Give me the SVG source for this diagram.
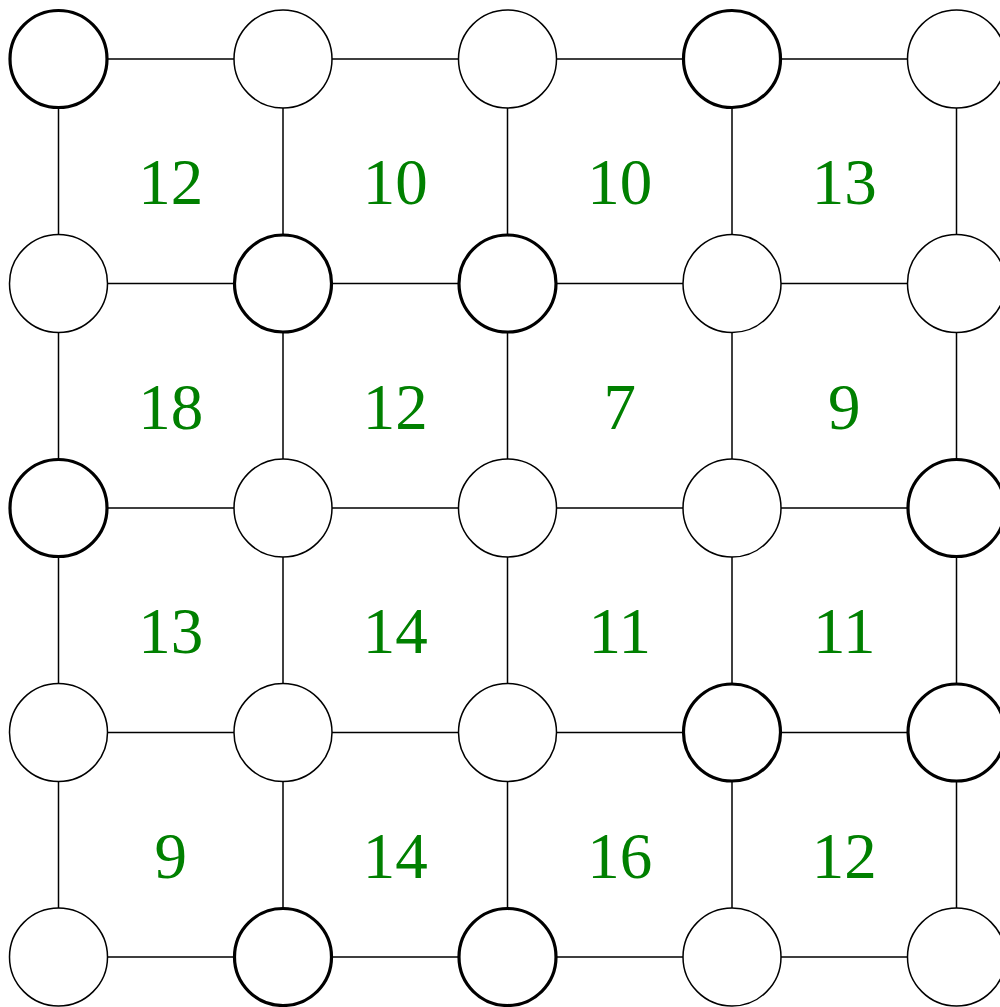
<svg xmlns="http://www.w3.org/2000/svg" width="1000" height="1007" viewBox="0 0 1000 1007">
<style>
.e{stroke:#000;stroke-width:1.5;fill:none}
.n{fill:#fff;stroke:#000;stroke-width:1.5}
.t{stroke-width:3.2}
.l{font-family:"Liberation Serif","Times New Roman",serif;font-size:65px;fill:#008000;text-anchor:middle}
</style>
<rect width="1000" height="1007" fill="#fff"/>
<g id="connectors" class="e">
<path d="M58.5 59H956.5M58.5 283.5H956.5M58.5 508H956.5M58.5 732.5H956.5M58.5 957H956.5"/>
<path d="M58.5 59V957M283 59V957M507.5 59V957M732 59V957M956.5 59V957"/>
</g>
<g id="labels" class="l">
<text x="170.75" y="204">12</text><text x="395.25" y="204">10</text><text x="619.75" y="204">10</text><text x="844.25" y="204">13</text>
<text x="170.75" y="428.5">18</text><text x="395.25" y="428.5">12</text><text x="619.75" y="428.5">7</text><text x="844.25" y="428.5">9</text>
<text x="170.75" y="653">13</text><text x="395.25" y="653">14</text><text x="619.75" y="653">11</text><text x="844.25" y="653">11</text>
<text x="170.75" y="877.5">9</text><text x="395.25" y="877.5">14</text><text x="619.75" y="877.5">16</text><text x="844.25" y="877.5">12</text>
</g>
<g id="n00"><circle class="n t" cx="58.5" cy="59" r="48.5"/></g>
<g id="n01"><circle class="n" cx="283" cy="59" r="49"/></g>
<g id="n02"><circle class="n" cx="507.5" cy="59" r="49"/></g>
<g id="n03"><circle class="n t" cx="732" cy="59" r="48.5"/></g>
<g id="n04"><circle class="n" cx="956.5" cy="59" r="49"/></g>
<g id="n10"><circle class="n" cx="58.5" cy="283.5" r="49"/></g>
<g id="n11"><circle class="n t" cx="283" cy="283.5" r="48.5"/></g>
<g id="n12"><circle class="n t" cx="507.5" cy="283.5" r="48.5"/></g>
<g id="n13"><circle class="n" cx="732" cy="283.5" r="49"/></g>
<g id="n14"><circle class="n" cx="956.5" cy="283.5" r="49"/></g>
<g id="n20"><circle class="n t" cx="58.5" cy="508" r="48.5"/></g>
<g id="n21"><circle class="n" cx="283" cy="508" r="49"/></g>
<g id="n22"><circle class="n" cx="507.5" cy="508" r="49"/></g>
<g id="n23"><circle class="n" cx="732" cy="508" r="49"/></g>
<g id="n24"><circle class="n t" cx="956.5" cy="508" r="48.5"/></g>
<g id="n30"><circle class="n" cx="58.5" cy="732.5" r="49"/></g>
<g id="n31"><circle class="n" cx="283" cy="732.5" r="49"/></g>
<g id="n32"><circle class="n" cx="507.5" cy="732.5" r="49"/></g>
<g id="n33"><circle class="n t" cx="732" cy="732.5" r="48.5"/></g>
<g id="n34"><circle class="n t" cx="956.5" cy="732.5" r="48.5"/></g>
<g id="n40"><circle class="n" cx="58.5" cy="957" r="49"/></g>
<g id="n41"><circle class="n t" cx="283" cy="957" r="48.5"/></g>
<g id="n42"><circle class="n t" cx="507.5" cy="957" r="48.5"/></g>
<g id="n43"><circle class="n" cx="732" cy="957" r="49"/></g>
<g id="n44"><circle class="n" cx="956.5" cy="957" r="49"/></g>
</svg>
